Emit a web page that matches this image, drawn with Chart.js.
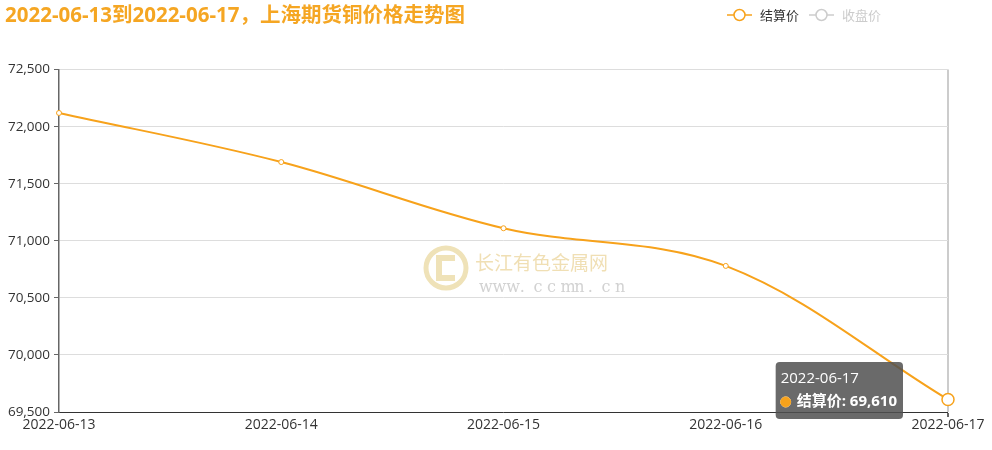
<!DOCTYPE html>
<html>
<head>
<meta charset="utf-8">
<script src="https://cdn.jsdelivr.net/npm/chart.js@4"></script>
<style>
  body { margin: 0; background: #fff; }
  #wrap { position: relative; width: 992px; height: 450px; }
  #legend { position: absolute; top: 5px; left: 727px; font: 13px "Open Sans", "Noto Sans CJK SC", sans-serif; display: flex; align-items: center; }
  #legend .item { display: flex; align-items: center; margin-right: 10px; }
  #legend svg { margin-right: 8px; }
</style>
</head>
<body>
<div id="wrap">
  <canvas id="grafico"></canvas>
  <div id="legend"></div>
</div>
<script>
const dates = ['2022-06-13', '2022-06-14', '2022-06-15', '2022-06-16', '2022-06-17']
const settle = [72120, 71690, 71110, 70780, 69610]
const seriesNames = ['结算价', '收盘价']
const titleText = '2022-06-13到2022-06-17，上海期货铜价格走势图'
const yMin = 69500
const yMax = 72500
const yStep = 500

const orange = '#f7a21b'
const fontFam = '"Open Sans", "Noto Sans CJK SC", sans-serif'

// legend (second series is hidden, drawn grey)
const legend = document.getElementById('legend')
seriesNames.forEach((name, i) => {
    const col = i === 0 ? orange : '#ccc'
    const txt = i === 0 ? '#333' : '#ccc'
    legend.innerHTML += '<span class="item"><svg width="25" height="14"><line x1="0" y1="7" x2="25" y2="7" stroke="' + col + '" stroke-width="1.5"/>' +
        '<circle cx="12.5" cy="7" r="5.5" fill="#fff" stroke="' + col + '" stroke-width="1.5"/></svg>' +
        '<span style="color:' + txt + '">' + name + '</span></span>'
})

const watermark = {
    id: 'watermark',
    beforeDatasetsDraw(chart) {
        const c = chart.ctx
        c.save()
        c.strokeStyle = '#efe2b8'
        c.fillStyle = '#efe2b8'
        c.lineWidth = 5
        c.beginPath()
        c.arc(446, 268, 20, 0, Math.PI * 2)
        c.stroke()
        c.lineWidth = 6
        c.beginPath()
        c.moveTo(455, 258)
        c.lineTo(439, 258)
        c.lineTo(439, 278)
        c.lineTo(455, 278)
        c.stroke()
        c.font = '19px "Noto Sans CJK SC"'
        c.fillStyle = '#f0dfb4'
        c.textBaseline = 'middle'
        c.fillText('长江有色金属网', 475, 263)
        c.font = '16px "DejaVu Serif"'
        c.fillStyle = '#d2d2d2'
        const url = 'www.ccmn.cn'
        for (let i = 0; i < url.length; i++) {
            c.fillText(url[i], 479 + i * 13.6, 288)
        }
        c.restore()
    }
}

Chart.Tooltip.positioners.leftOfPoint = function(items) {
    if (!items.length) return false
    const p = items[0].element
    return { x: p.x - 45, y: p.y - 9, xAlign: 'right', yAlign: 'center' }
}

const ctx = document.getElementById('grafico')
const chart = new Chart(ctx, {
    type: 'line',
    data: {
        labels: dates,
        datasets: [{
            label: seriesNames[0],
            data: settle,
            borderColor: orange,
            backgroundColor: orange,
            borderWidth: 2,
            tension: 0.35,
            pointRadius: 2.5,
            pointBackgroundColor: '#fff',
            pointBorderColor: orange,
            pointBorderWidth: 1,
            pointHoverRadius: 6,
            pointHoverBackgroundColor: '#fff',
            pointHoverBorderColor: orange,
            pointHoverBorderWidth: 1.5
        }, {
            label: seriesNames[1],
            data: [],
            hidden: true,
            borderColor: '#ccc'
        }]
    },
    plugins: [watermark],
    options: {
        responsive: true,
        maintainAspectRatio: false,
        animation: false,
        layout: { padding: { left: 5, right: 44, top: 0, bottom: 0 } },
        plugins: {
            legend: { display: false },
            title: {
                display: true,
                text: titleText,
                align: 'start',
                color: '#f5a623',
                font: { family: fontFam, size: 20.5, weight: 'bold' },
                padding: { top: 4, bottom: 41 }
            },
            tooltip: {
                position: 'leftOfPoint',
                backgroundColor: 'rgba(80,80,80,0.85)',
                titleColor: '#fff',
                bodyColor: '#fff',
                titleFont: { family: fontFam, size: 15, weight: 'normal' },
                bodyFont: { family: fontFam, size: 15, weight: 'bold' },
                padding: { left: 5, right: 6, top: 8, bottom: 8 },
                titleMarginBottom: 5,
                caretSize: 0,
                caretPadding: 0,
                cornerRadius: 4,
                usePointStyle: true,
                boxWidth: 10,
                boxHeight: 10,
                boxPadding: 4,
                displayColors: true,
                callbacks: {
                    label: c => c.dataset.label + ': ' + c.parsed.y.toLocaleString('en-US'),
                    labelColor: () => ({ borderColor: orange, backgroundColor: orange }),
                    labelPointStyle: () => ({ pointStyle: 'circle', rotation: 0 })
                }
            }
        },
        scales: {
            x: {
                offset: false,
                afterFit: s => { s.height = 38 },
                border: { color: '#333', width: 1 },
                grid: {
                    color: c => c.index === dates.length - 1 ? '#ccc' : 'transparent',
                    lineWidth: c => c.index === dates.length - 1 ? 2 : 0,
                    tickColor: '#666',
                    tickLength: 5
                },
                ticks: {
                    color: '#333',
                    font: { family: fontFam, size: 14 },
                    padding: 0,
                    maxRotation: 0,
                    autoSkip: false
                }
            },
            y: {
                min: yMin,
                max: yMax,
                afterFit: s => { s.width = 54 },
                border: { color: '#666', width: 1.5 },
                grid: { color: '#ddd', tickColor: '#666', tickLength: 5 },
                ticks: {
                    stepSize: yStep,
                    color: '#333',
                    padding: 4,
                    font: { family: fontFam, size: 13.5 },
                    callback: v => v.toLocaleString('en-US')
                }
            }
        }
    }
})

const act = [{ datasetIndex: 0, index: dates.length - 1 }]
chart.setActiveElements(act)
chart.tooltip.setActiveElements(act, { x: 0, y: 0 })
chart.update()
</script>
</body>
</html>
